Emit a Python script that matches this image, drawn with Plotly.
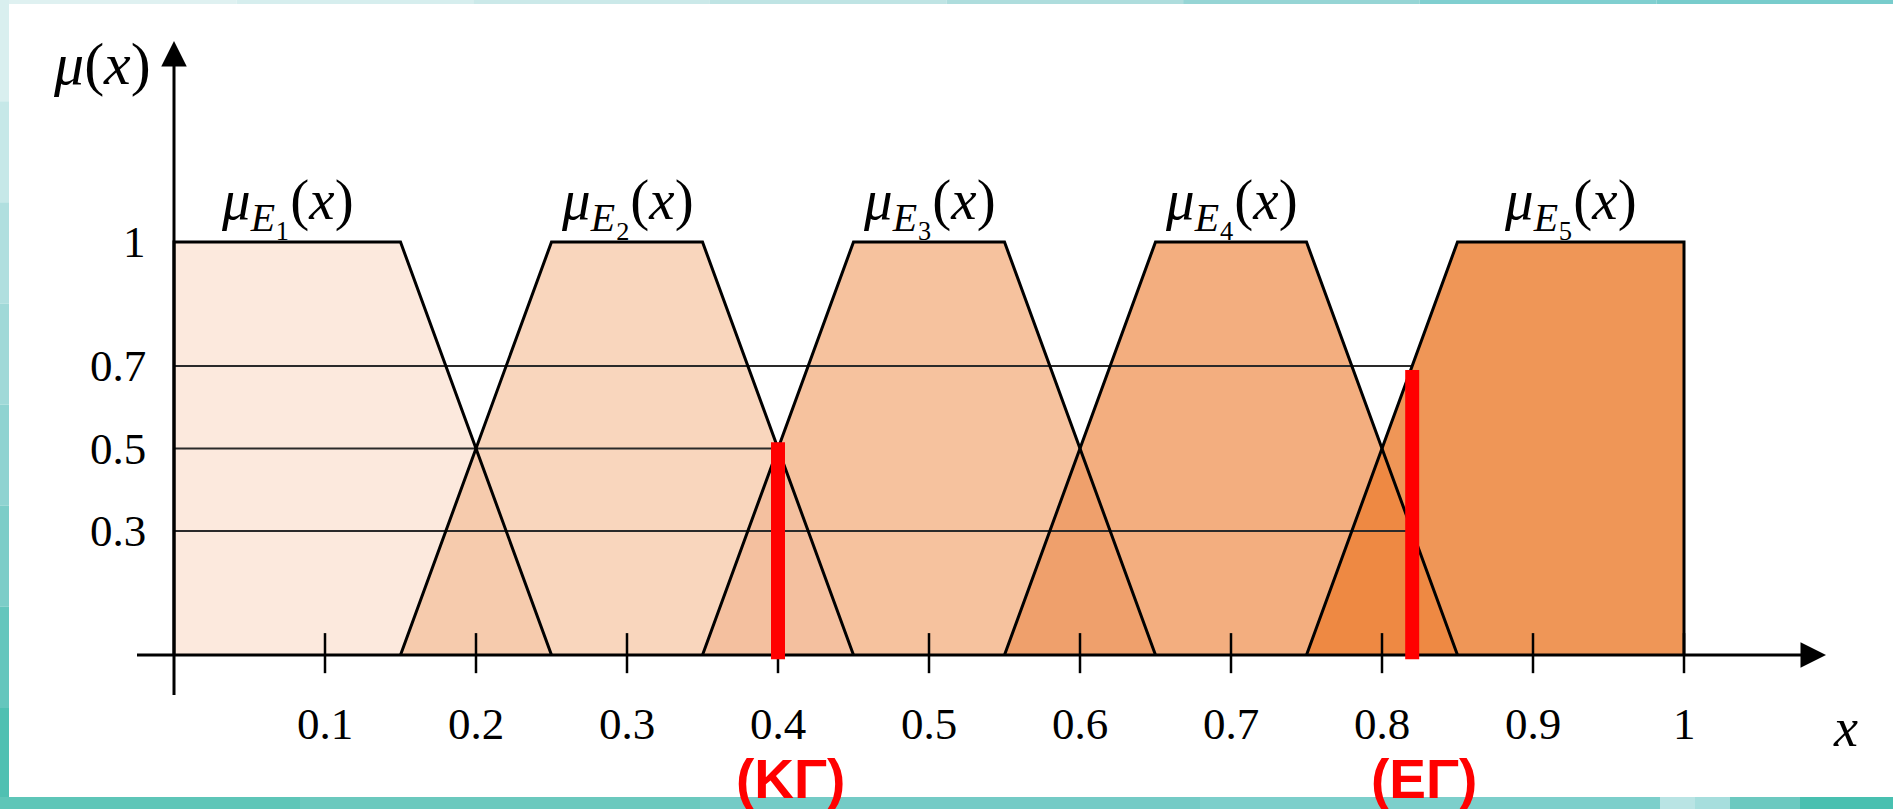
import plotly.graph_objects as go

# ---------------- data ----------------
set_index = ["1", "2", "3", "4", "5"]
set_a = [0.00, 0.15, 0.35, 0.55, 0.75]
set_b = [0.00, 0.25, 0.45, 0.65, 0.85]
set_c = [0.15, 0.35, 0.55, 0.75, 1.00]
set_d = [0.25, 0.45, 0.65, 0.85, 1.00]
set_fill = ["#FCE9DD", "#F9D6BD", "#F6C29E", "#F3AE7F", "#EF9657"]
overlap_fill = ["#F6CBAD", "#F4C09F", "#EFA06C", "#EE8943"]

x_ticks = [0.1, 0.2, 0.3, 0.4, 0.5, 0.6, 0.7, 0.8, 0.9, 1.0]
x_tick_labels = ["0.1", "0.2", "0.3", "0.4", "0.5", "0.6", "0.7", "0.8", "0.9", "1"]
y_levels = [1.0, 0.7, 0.5, 0.3]
y_level_labels = ["1", "0.7", "0.5", "0.3"]

guide_levels = [0.7, 0.5, 0.3]
guide_ends = [0.82, 0.40, 0.82]

marker_x = [0.40, 0.82]
marker_top = [0.515, 0.69]
marker_labels = ["(ΚΓ)", "(ΕΓ)"]

# ---------------- layout constants ----------------
X_RANGE = [-0.11523, 1.13841]
Y_RANGE = [-0.37288, 1.58596]
SERIF = "Liberation Serif, Times New Roman, serif"

fig = go.Figure()

# trapezoid fills
for i in range(len(set_a)):
    xs = [set_a[i], set_b[i], set_c[i], set_d[i]]
    ys = [0, 1, 1, 0]
    fig.add_trace(go.Scatter(x=xs, y=ys, fill="toself", fillcolor=set_fill[i],
                             mode="lines", line=dict(width=0), hoverinfo="skip"))

# overlap triangles (intersection of neighbouring sets)
for i in range(len(set_a) - 1):
    s1 = set_d[i] - set_c[i]
    s2 = set_b[i + 1] - set_a[i + 1]
    xc = (set_d[i] * s2 + set_a[i + 1] * s1) / (s1 + s2)
    yc = (xc - set_a[i + 1]) / s2
    fig.add_trace(go.Scatter(x=[set_a[i + 1], xc, set_d[i]], y=[0, yc, 0], fill="toself",
                             fillcolor=overlap_fill[i], mode="lines", line=dict(width=0),
                             hoverinfo="skip"))

# horizontal guide lines
gx, gy = [], []
for lvl, end in zip(guide_levels, guide_ends):
    gx += [0, end, None]
    gy += [lvl, lvl, None]
fig.add_trace(go.Scatter(x=gx, y=gy, mode="lines", line=dict(color="#2a2a2a", width=2),
                         hoverinfo="skip"))

# trapezoid outlines
for i in range(len(set_a)):
    xs = [set_a[i], set_b[i], set_c[i], set_d[i]]
    ys = [0, 1, 1, 0]
    fig.add_trace(go.Scatter(x=xs, y=ys, mode="lines", line=dict(color="black", width=3),
                             hoverinfo="skip"))

# axes
fig.add_trace(go.Scatter(x=[-0.0245, 1.085], y=[0, 0], mode="lines",
                         line=dict(color="black", width=3), hoverinfo="skip"))
fig.add_trace(go.Scatter(x=[0, 0], y=[-0.097, 1.47], mode="lines",
                         line=dict(color="black", width=3), hoverinfo="skip"))

# tick marks
tx, ty = [], []
for t in x_ticks:
    tx += [t, t, None]
    ty += [0.053, -0.044, None]
fig.add_trace(go.Scatter(x=tx, y=ty, mode="lines", line=dict(color="black", width=2.5),
                         hoverinfo="skip"))

# red markers
for mx, mt in zip(marker_x, marker_top):
    fig.add_trace(go.Scatter(x=[mx, mx], y=[-0.01, mt], mode="lines",
                             line=dict(color="#FF0000", width=14), hoverinfo="skip"))

annotations = []
# arrow heads
annotations.append(dict(x=1.098, y=0, xref="x", yref="y", ax=-30, ay=0, text="",
                        showarrow=True, arrowhead=2, arrowsize=1.7, arrowwidth=3,
                        arrowcolor="black", standoff=6))
annotations.append(dict(x=0, y=1.501, xref="x", yref="y", ax=0, ay=30, text="",
                        showarrow=True, arrowhead=2, arrowsize=1.7, arrowwidth=3,
                        arrowcolor="black", standoff=6))

# x tick labels
for t, lab in zip(x_ticks, x_tick_labels):
    annotations.append(dict(x=t, y=-0.167, xref="x", yref="y", text=lab, showarrow=False,
                            font=dict(family=SERIF, size=45, color="black")))
# y tick labels
for v, lab in zip(y_levels, y_level_labels):
    annotations.append(dict(x=-0.017, y=v, xref="x", yref="y", text=lab, showarrow=False,
                            xanchor="right", font=dict(family=SERIF, size=45, color="black")))

# set labels
sub_digits = {"1": "₁", "2": "₂", "3": "₃", "4": "₄", "5": "₅"}
for i in range(len(set_a)):
    txt = ("<i>μ</i><sub><i>E</i><span style='font-size:44px'>" + sub_digits[set_index[i]]
           + "</span></sub>(<i>x</i>)")
    annotations.append(dict(x=(set_b[i] + set_c[i]) / 2, y=1.09, xref="x", yref="y",
                            text=txt, showarrow=False,
                            font=dict(family=SERIF, size=57, color="black")))

# axis titles
annotations.append(dict(x=-0.048, y=1.43, xref="x", yref="y", text="<i>μ</i>(<i>x</i>)",
                        showarrow=False, font=dict(family=SERIF, size=60, color="black")))
annotations.append(dict(x=1.107, y=-0.177, xref="x", yref="y", text="<i>x</i>",
                        showarrow=False, font=dict(family=SERIF, size=54, color="black")))

# red labels
for mx, lab in zip(marker_x, marker_labels):
    annotations.append(dict(x=mx + 0.008, y=-0.30, xref="x", yref="y", text="<b>" + lab + "</b>",
                            showarrow=False,
                            font=dict(family="Liberation Sans Narrow, Liberation Sans, Arial Narrow, sans-serif",
                                      size=55, color="#FF0000")))

# teal frame (decorative)
W, H = 1893.0, 809.0
shapes = []
def band(x0, x1, y0, y1, color):
    shapes.append(dict(type="rect", xref="paper", yref="paper", x0=x0 / W, x1=x1 / W,
                       y0=1 - y1 / H, y1=1 - y0 / H, fillcolor=color, line=dict(width=0),
                       layer="below"))

top_cols = ["#dff1f1", "#d6eeee", "#cbe9e9", "#bfe4e4", "#aedddd", "#96d5d5", "#80cfd0", "#78cccc"]
for k, c in enumerate(top_cols):
    band(W * k / len(top_cols), W * (k + 1) / len(top_cols), 0, 4, c)
left_cols = ["#d9efef", "#c6e8e8", "#b0dfdf", "#a0d9d8", "#8fd3d1", "#7ccdc8", "#64c6bd", "#4fc0b2"]
for k, c in enumerate(left_cols):
    band(0, 9, H * k / len(left_cols), H * (k + 1) / len(left_cols), c)
bot_segments = [(0, 300, "#5ec6b8"), (300, 700, "#6bc9be"), (700, 1200, "#74cbc6"),
                (1200, 1660, "#7ccfcb"), (1660, 1695, "#b9e4e4"), (1695, 1730, "#a6dedd"),
                (1730, 1800, "#6cc9c0"), (1800, 1893, "#48c0b0")]
for x0, x1, c in bot_segments:
    band(x0, x1, 797, 809, c)

fig.update_layout(
    width=1893, height=809,
    margin=dict(l=0, r=0, t=0, b=0),
    paper_bgcolor="white", plot_bgcolor="white",
    showlegend=False,
    xaxis=dict(range=X_RANGE, visible=False, fixedrange=True),
    yaxis=dict(range=Y_RANGE, visible=False, fixedrange=True),
    annotations=annotations,
    shapes=shapes,
)

fig.write_html("out.html", config={"displayModeBar": False},
               post_script="document.body.style.margin='0';document.body.style.overflow='hidden';")
